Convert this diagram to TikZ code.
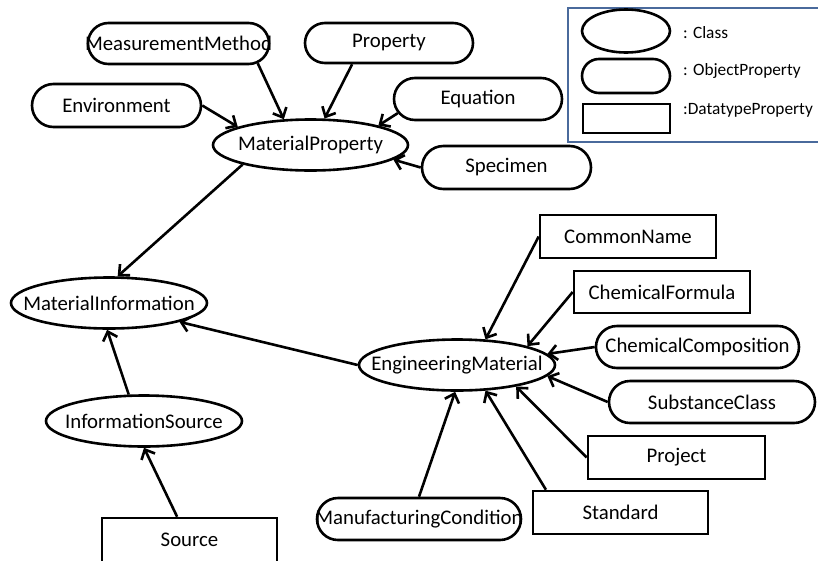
\documentclass[tikz,border=0pt]{standalone}
\usepackage{fontspec}
\setmainfont{Carlito}
\usetikzlibrary{shapes.geometric,shapes.misc,arrows.meta}
\definecolor{legendblue}{RGB}{74,106,156}
\newcommand{\lbl}[1]{\makebox[0pt]{#1}}
\begin{document}
\begin{tikzpicture}
[every node/.style={inner sep=0pt, font=\fontsize{20.8}{24}\selectfont},
 cls/.style={ellipse, draw=black, line width=2.6pt, minimum width=195pt, minimum height=51pt},
 objp/.style={rounded rectangle, draw=black, line width=2.6pt, minimum height=42pt},
 datp/.style={rectangle, draw=black, line width=2.6pt, minimum width=176pt, minimum height=42pt},
 legtext/.style={anchor=west, font=\fontsize{17.3}{20}\selectfont},
 >={Straight Barb[length=8pt,width=15pt]}]
\useasboundingbox (0pt,0pt) rectangle (818pt,-560pt);
\clip (0pt,0pt) rectangle (818pt,-560pt);
% legend
\draw [legendblue, line width=2.4pt] (568pt,-8pt) rectangle (840pt,-142pt);
\node (lc) [cls, minimum width=88pt, minimum height=43pt] at (626pt, -31pt) {};
\node (lo) [objp, minimum width=88pt, minimum height=34pt] at (626pt, -76pt) {};
\node (ld) [datp, minimum width=87pt, minimum height=29pt] at (626.5pt, -118.5pt) {};
\node (lct) [legtext] at (683pt, -33pt) {: Class};
\node (lot) [legtext] at (683pt, -71pt) {: ObjectProperty};
\node (ldt) [legtext] at (683pt, -110pt) {:DatatypeProperty};
% classes
\node (mp) [cls] at (310.5pt, -145pt) {\lbl{MaterialProperty}};
\node (mi) [cls, minimum width=196pt] at (109pt, -303pt) {\lbl{MaterialInformation}};
\node (is) [cls, minimum width=196pt] at (144pt, -421pt) {\lbl{InformationSource}};
\node (em) [cls, minimum width=196pt] at (457pt, -365pt) {\lbl{EngineeringMaterial}};
% object properties
\node (mm) [objp, minimum width=181pt, minimum height=41pt] at (178.5pt, -43.5pt) {\lbl{MeasurementMethod}};
\node (prop) [objp, minimum width=168pt, minimum height=40pt] at (389pt, -43pt) {\lbl{Property}};
\node (env) [objp, minimum width=169pt, minimum height=43pt] at (116.5pt, -105.5pt) {\lbl{Environment}};
\node (eq) [objp, minimum width=168pt] at (478pt, -99pt) {\lbl{Equation}};
\node (spec) [objp, minimum width=169pt, minimum height=43pt] at (506.5pt, -167.5pt) {\lbl{Specimen}};
\node (cc) [objp, minimum width=203pt] at (697.5pt, -347pt) {\lbl{ChemicalComposition}};
\node (sc) [objp, minimum width=206pt] at (712pt, -402pt) {\lbl{SubstanceClass}};
\node (mc) [objp, minimum width=204pt] at (419pt, -519pt) {\lbl{ManufacturingCondition}};
% datatype properties
\node (cn) [datp, minimum height=43pt] at (628pt, -236.5pt) {\lbl{CommonName}};
\node (cf) [datp] at (662pt, -292pt) {\lbl{ChemicalFormula}};
\node (proj) [datp, minimum width=177pt, minimum height=43pt] at (676.5pt, -457.5pt) {\lbl{Project}};
\node (std) [datp, minimum width=175pt, minimum height=43pt] at (620.5pt, -512.5pt) {\lbl{Standard}};
\node (src) [datp, minimum width=175pt, minimum height=44pt] at (189.5pt, -540pt) {\lbl{Source}};
% links
\draw [line width=2.6pt, ->] (mm.-14) to (mp.136);
\draw [line width=2.6pt, ->] (prop.-150) to (mp.62);
\draw [line width=2.6pt, ->] (env.east) to (mp.166);
\draw [line width=2.6pt, ->] (eq.190) to (mp.16);
\draw [line width=2.6pt, ->] (spec.west) to (mp.-10);
\draw [line width=2.6pt, ->] (mp.196) to (mi.72);
\draw [line width=2.6pt, ->] (em.west) to (mi.-15);
\draw [line width=2.6pt, ->] (is.120) to (mi.-94);
\draw [line width=2.6pt, ->] (src.118) to (is.south);
\draw [line width=2.6pt, ->] (cn.west) to (em.42);
\draw [line width=2.6pt, ->] (cf.west) to (em.15);
\draw [line width=2.6pt, ->] (cc.west) to (em.7);
\draw [line width=2.6pt, ->] (sc.west) to (em.-7);
\draw [line width=2.6pt, ->] (proj.west) to (em.-20);
\draw [line width=2.6pt, ->] (std.163) to (em.-42);
\draw [line width=2.6pt, ->] (mc.north) to (em.-94);
\end{tikzpicture}
\end{document}
